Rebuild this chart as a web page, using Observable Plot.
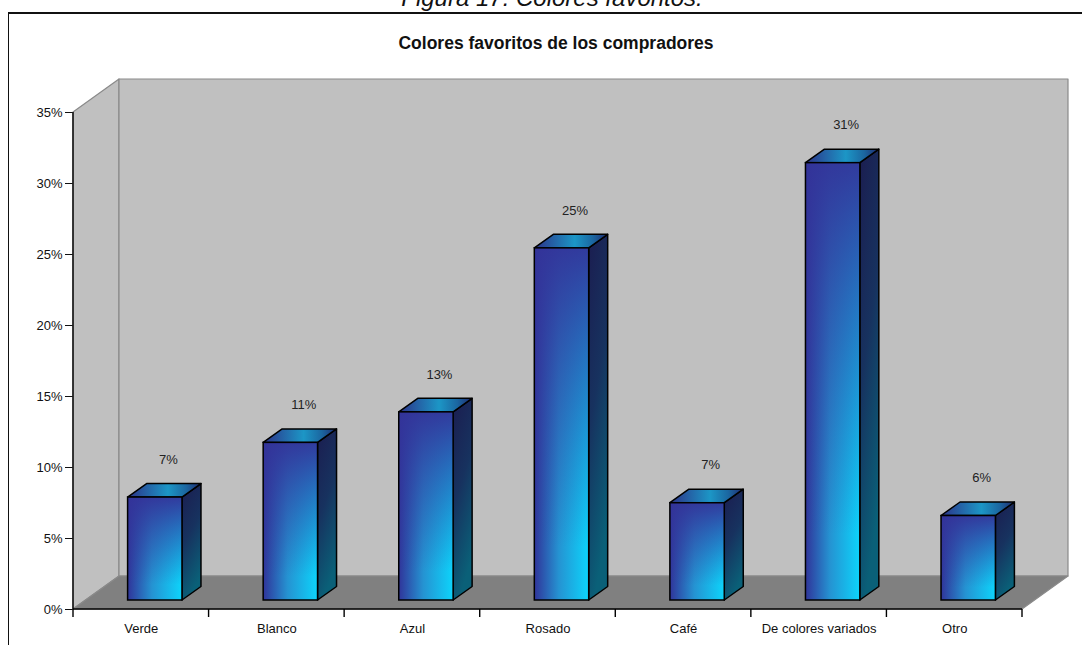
<!DOCTYPE html>
<html>
<head>
<meta charset="utf-8">
<script src="https://cdn.jsdelivr.net/npm/d3@7"></script>
<script src="https://cdn.jsdelivr.net/npm/@observablehq/plot@0.6"></script>
<style>
  html, body { margin: 0; padding: 0; background: #fff; }
  body { width: 1082px; height: 645px; overflow: hidden; position: relative; font-family: "Liberation Sans", Arial, sans-serif; }
  #caption { position: absolute; left: 0; top: -14px; width: 1104px; text-align: center; font-style: italic; font-size: 24px; line-height: 24px; color: #111; white-space: nowrap; }
  #frame { position: absolute; left: 8px; top: 12px; width: 1200px; height: 800px; border-top: 2px solid #111; border-left: 1.5px solid #111; }
  #title { position: absolute; left: 0; top: 33px; width: 1112px; text-align: center; font-weight: bold; font-size: 17.5px; line-height: 20px; color: #111; white-space: nowrap; }
  #chart { position: absolute; left: 0; top: 0; }
</style>
</head>
<body>
<svg width="0" height="0" style="position:absolute">
  <defs>
    <linearGradient id="frontH" x1="0" y1="0" x2="1" y2="0">
      <stop offset="0" stop-color="#30349a"/>
      <stop offset="0.45" stop-color="#2593d2"/>
      <stop offset="1" stop-color="#0dd4fb"/>
    </linearGradient>
    <linearGradient id="frontV" x1="0" y1="0" x2="0" y2="1">
      <stop offset="0" stop-color="#333399" stop-opacity="0.95"/>
      <stop offset="0.3" stop-color="#333399" stop-opacity="0.6"/>
      <stop offset="0.85" stop-color="#333399" stop-opacity="0"/>
    </linearGradient>
    <linearGradient id="sideG" x1="0" y1="0" x2="0.3" y2="1">
      <stop offset="0" stop-color="#1b1d50"/>
      <stop offset="0.5" stop-color="#17325f"/>
      <stop offset="1" stop-color="#0a6078"/>
    </linearGradient>
    <linearGradient id="topG" x1="0" y1="0" x2="1" y2="0">
      <stop offset="0" stop-color="#2c3288"/>
      <stop offset="0.55" stop-color="#1c96c6"/>
      <stop offset="0.8" stop-color="#1b66a0"/>
      <stop offset="1" stop-color="#1f2a70"/>
    </linearGradient>
  </defs>
</svg>
<div id="caption">Figura 17: Colores favoritos.</div>
<div id="frame"></div>
<div id="title">Colores favoritos de los compradores</div>
<div id="chart"></div>
<script>
// ---- data ----
const categories = ["Verde", "Blanco", "Azul", "Rosado", "Café", "De colores variados", "Otro"];
const shares = [7.25, 11.1, 13.25, 24.8, 6.85, 30.8, 5.95];
const yTicks = [0, 5, 10, 15, 20, 25, 30, 35];

const data = categories.map((c, i) => ({category: c, share: shares[i], label: Math.round(shares[i]) + "%"}));

// ---- 3D styling constants (pixels) ----
const INSET = 40.6;          // bar inset on each side of band
const SHIFT_X = 14, SHIFT_Y = -9;   // bar front plane offset
const BAR_DX = 19, BAR_DY = -13.5;  // bar depth
const WALL_DX = 46, WALL_DY = -33;  // wall depth

function bandwidth(x) {
  return x.bandwidth ? x.bandwidth() : (x(categories[1]) - x(categories[0]));
}
function pts(arr) { return arr.map(p => p[0] + "," + p[1]).join(" "); }

function wallsMark(index, scales) {
  const {x, y} = scales;
  const bw = bandwidth(x);
  const x0 = x(categories[0]), x1 = x(categories[categories.length - 1]) + bw;
  const y0 = y(0), yT = y(yTicks[yTicks.length - 1]);
  const g = d3.create("svg:g");
  const poly = (p, fill) => g.append("polygon").attr("points", pts(p)).attr("fill", fill)
    .attr("stroke", "#8a8a8a").attr("stroke-width", 1.2).attr("stroke-linejoin", "round");
  poly([[x0, y0], [x0, yT], [x0 + WALL_DX, yT + WALL_DY], [x0 + WALL_DX, y0 + WALL_DY]], "#c0c0c0");
  poly([[x0 + WALL_DX, yT + WALL_DY], [x1 + WALL_DX, yT + WALL_DY], [x1 + WALL_DX, y0 + WALL_DY], [x0 + WALL_DX, y0 + WALL_DY]], "#c0c0c0");
  poly([[x0, y0], [x0 + WALL_DX, y0 + WALL_DY], [x1 + WALL_DX, y0 + WALL_DY], [x1, y0]], "#808080");
  return g.node();
}

function axesMark(index, scales) {
  const {x, y} = scales;
  const bw = bandwidth(x);
  const x0 = x(categories[0]), x1 = x(categories[categories.length - 1]) + bw;
  const y0 = y(0), yT = y(yTicks[yTicks.length - 1]);
  const g = d3.create("svg:g").attr("stroke", "#000").attr("stroke-width", 1.4);
  g.append("line").attr("x1", x0).attr("x2", x0).attr("y1", yT).attr("y2", y0);
  g.append("line").attr("x1", x0).attr("x2", x1).attr("y1", y0).attr("y2", y0);
  for (let i = 0; i <= categories.length; i++) {
    const xb = x0 + i * bw;
    g.append("line").attr("x1", xb).attr("x2", xb).attr("y1", y0).attr("y2", y0 + 8);
  }
  return g.node();
}

function barSidesMark(index, scales) {
  const {x, y} = scales;
  const bw = bandwidth(x);
  const g = d3.create("svg:g").attr("stroke", "#000").attr("stroke-width", 1.5).attr("stroke-linejoin", "round");
  for (const d of data) {
    const xl = x(d.category) + INSET + SHIFT_X;
    const xr = x(d.category) + bw - INSET + SHIFT_X;
    const yt = y(d.share) + SHIFT_Y;
    const yb = y(0) + SHIFT_Y;
    g.append("polygon").attr("fill", "url(#sideG)")
      .attr("points", pts([[xr, yt], [xr + BAR_DX, yt + BAR_DY], [xr + BAR_DX, yb + BAR_DY], [xr, yb]]));
    g.append("polygon").attr("fill", "url(#topG)")
      .attr("points", pts([[xl, yt], [xl + BAR_DX, yt + BAR_DY], [xr + BAR_DX, yt + BAR_DY], [xr, yt]]));
  }
  return g.node();
}

const chart = Plot.plot({
  width: 1082,
  height: 645,
  marginLeft: 73,
  marginRight: 60,
  marginTop: 112,
  marginBottom: 36,
  style: {fontFamily: "Liberation Sans, Arial, sans-serif", fontSize: "13px", background: "transparent", color: "#111", overflow: "visible"},
  x: {domain: categories, padding: 0, round: false, tickSize: 0, tickPadding: 14, label: null},
  y: {domain: [0, 35], ticks: yTicks, tickFormat: d => d + "%", tickSize: 8, tickPadding: 3, label: null},
  marks: [
    wallsMark,
    axesMark,
    barSidesMark,
    Plot.barY(data, {x: "category", y: "share", dx: SHIFT_X, dy: SHIFT_Y, insetLeft: INSET, insetRight: INSET, fill: "url(#frontH)"}),
    Plot.barY(data, {x: "category", y: "share", dx: SHIFT_X, dy: SHIFT_Y, insetLeft: INSET, insetRight: INSET, fill: "url(#frontV)", stroke: "#000", strokeWidth: 1.5}),
    Plot.text(data, {x: "category", y: "share", text: "label", dx: 27, dy: -47, fontSize: 13, fill: "#222"})
  ]
});
document.getElementById("chart").appendChild(chart);
</script>
</body>
</html>
